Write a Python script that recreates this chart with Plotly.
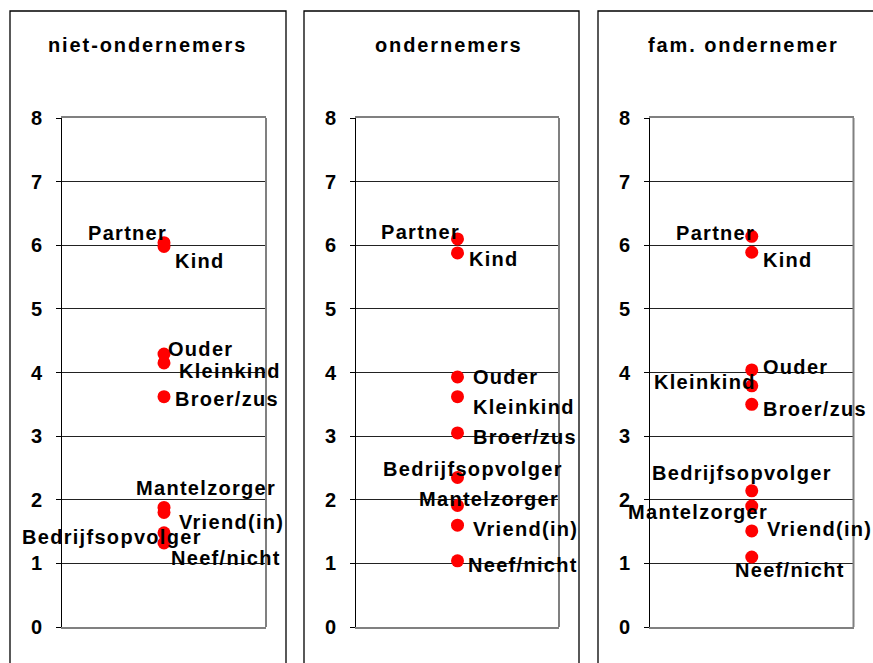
import plotly.graph_objects as go

W, H = 873, 663

categories = ["Partner", "Kind", "Ouder", "Kleinkind", "Broer/zus",
              "Bedrijfsopvolger", "Mantelzorger", "Vriend(in)", "Neef/nicht"]
panel_titles = ["niet-ondernemers", "ondernemers", "fam. ondernemer"]
niet_ondernemers = [6.04, 5.98, 4.29, 4.15, 3.62, 1.48, 1.88, 1.80, 1.32]
ondernemers = [6.10, 5.88, 3.93, 3.62, 3.05, 2.35, 1.91, 1.60, 1.04]
fam_ondernemer = [6.14, 5.89, 4.04, 3.79, 3.50, 2.14, 1.90, 1.51, 1.10]
y_ticks = [0, 1, 2, 3, 4, 5, 6, 7, 8]

series = [niet_ondernemers, ondernemers, fam_ondernemer]

# label placement (anchor, xshift px, yshift px) per panel, per category
label_pos = [
    [("right", 5, 10), ("left", 9, -14), ("left", 2, 5), ("left", 13, -8),
     ("left", 9, -2), ("right", 40, -4), ("left", -30, 19), ("left", 13, -10),
     ("left", 5, -15)],
    [("right", 4, 7), ("left", 9, -6), ("left", 13, 0), ("left", 13, -10),
     ("left", 13, -4), ("left", -77, 8), ("left", -41, 6), ("left", 13, -4),
     ("left", 8, -4)],
    [("right", 5, 3), ("left", 9, -8), ("left", 9, 3), ("right", 6, 4),
     ("left", 9, -5), ("left", -102, 18), ("left", -126, -6), ("left", 13, 2),
     ("left", -19, -13)],
]

# geometry in pixels
plot_x = [(62, 266), (356, 559), (650, 853.5)]
plot_y = (118, 627)
frames_x = [(10, 286), (304, 579), (598, 880)]
frame_top = 11
title_cx = [147, 449, 743]
title_cy = 45

FONT = "Liberation Sans, Arial, sans-serif"

fig = go.Figure()
layout = dict(
    width=W, height=H,
    margin=dict(l=0, r=0, t=0, b=0, pad=0, autoexpand=False),
    paper_bgcolor="white", plot_bgcolor="white", showlegend=False,
    font=dict(family=FONT, color="black"),
)
shapes = []
annotations = []

ydom = [1 - plot_y[1] / H, 1 - plot_y[0] / H]

for i in range(3):
    sfx = "" if i == 0 else str(i + 1)
    xa = "x" + sfx
    ya = "y" + sfx
    layout["xaxis" + sfx] = dict(
        domain=[plot_x[i][0] / W, plot_x[i][1] / W], range=[0, 2],
        showticklabels=False, ticks="", showgrid=False, zeroline=False,
        showline=True, linecolor="#808080", linewidth=2, mirror=True,
        anchor=ya, fixedrange=True, automargin=False,
    )
    layout["yaxis" + sfx] = dict(
        domain=ydom, range=[0, 8], tickvals=y_ticks,
        ticktext=[str(v) for v in y_ticks],
        showgrid=True, gridcolor="#222222", gridwidth=1, zeroline=False,
        showline=True, linecolor="black", linewidth=1, mirror=False,
        ticks="outside", ticklen=5, tickcolor="black", tickwidth=1,
        ticklabelstandoff=10, automargin=False,
        tickfont=dict(family=FONT, size=20, color="black", weight="bold"),
        anchor=xa, fixedrange=True,
    )
    vals = series[i]
    fig.add_trace(go.Scatter(
        x=[1] * len(vals), y=vals, mode="markers", xaxis=xa, yaxis=ya,
        marker=dict(color="#FF0000", size=13, line=dict(width=0)),
        text=categories, hoverinfo="text+y", cliponaxis=False,
    ))
    # right border of plot area (gray)
    shapes.append(dict(type="line", xref=xa + " domain", yref=ya + " domain",
                       x0=1, x1=1, y0=0, y1=1,
                       line=dict(color="#808080", width=2)))
    # outer frame
    shapes.append(dict(type="rect", xref="paper", yref="paper",
                       x0=frames_x[i][0] / W, x1=frames_x[i][1] / W,
                       y0=-0.05, y1=1 - frame_top / H,
                       line=dict(color="black", width=1.3),
                       fillcolor="rgba(0,0,0,0)", layer="below"))
    # title
    annotations.append(dict(
        xref="paper", yref="paper", x=title_cx[i] / W, y=1 - title_cy / H,
        xanchor="center", yanchor="middle", showarrow=False,
        text=f'<span style="letter-spacing:1.9px">{panel_titles[i]}</span>',
        font=dict(family=FONT, size=20, color="black", weight="bold"),
    ))
    # point labels
    for cat, v, (anc, dx, dy) in zip(categories, vals, label_pos[i]):
        annotations.append(dict(
            xref=xa, yref=ya, x=1, y=v, xanchor=anc, yanchor="middle",
            xshift=dx, yshift=dy, showarrow=False,
            text=f'<span style="letter-spacing:1.3px">{cat}</span>',
            font=dict(family=FONT, size=20, color="black", weight="bold"),
        ))

layout["shapes"] = shapes
layout["annotations"] = annotations
fig.update_layout(**layout)
fig.write_html(
    "out.html",
    config={"displayModeBar": False, "responsive": False},
    post_script="document.body.style.margin='0';document.body.style.overflow='hidden';",
)
